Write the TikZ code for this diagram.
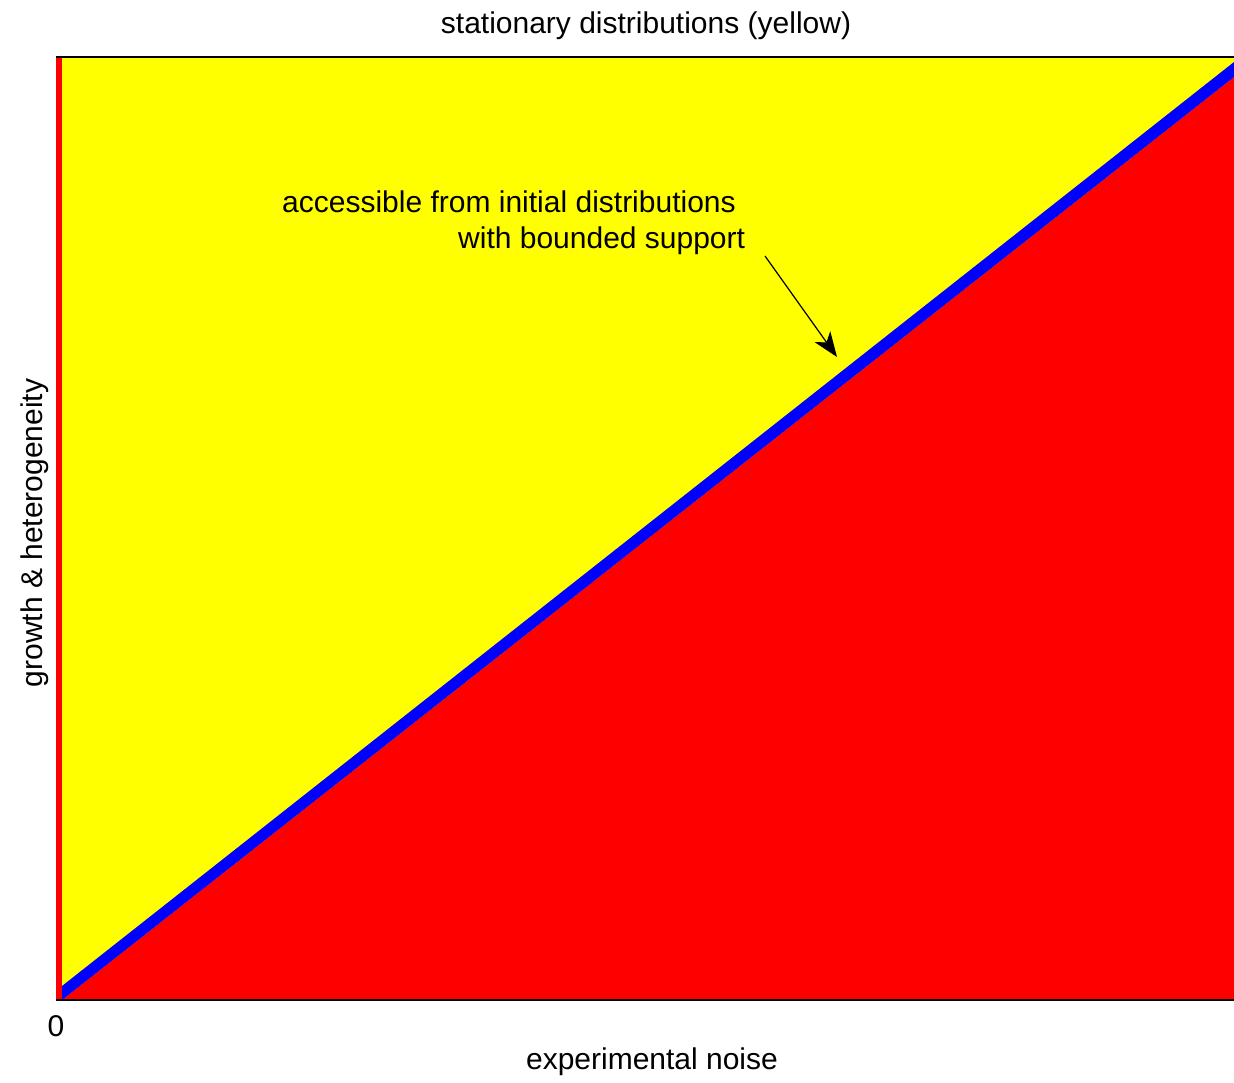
\documentclass[tikz,border=0pt]{standalone}
\usepackage{fontspec}
\setmainfont{Liberation Sans}
\usetikzlibrary{arrows.meta}
\definecolor{plotyellow}{RGB}{255,255,0}
\definecolor{plotred}{RGB}{255,0,0}
\definecolor{plotblue}{RGB}{0,0,255}
\tikzset{
  lbl/.style={inner sep=0pt, font=\fontsize{30}{36}\selectfont},
  pointer/.style={line width=1.2pt, -{Stealth[length=25pt,width=19pt,inset=7pt]}}
}
\begin{document}
\begin{tikzpicture}[x=1pt,y=-1pt]
\useasboundingbox (0,0) rectangle (1234,1082);
% regions
\fill[plotyellow] (56,57) rectangle (1234,1000);
\fill[plotred] (62,1000) -- (1234,77) -- (1234,1000) -- cycle;
\fill[plotblue] (62,986) -- (1234,62) -- (1234,77) -- (62,1000) -- cycle;
\fill[plotred] (56,57) rectangle (62,1001);
% frame
\draw[line width=1.2pt] (56,57) -- (1234,57);
\draw[line width=1.2pt] (56,1000) -- (1234,1000);
% labels
\node[lbl, anchor=base] (title) at (646,33) {stationary distributions (yellow)};
\node[lbl, anchor=base] (xlab) at (652,1069) {experimental noise};
\node[lbl, anchor=base, rotate=90] (ylab) at (42,533) {growth \& heterogeneity};
\node[lbl, anchor=base] (zero) at (56,1036) {0};
\node[lbl, anchor=base west] (ann1) at (282,212) {accessible from initial distributions};
\node[lbl, anchor=base west] (ann2) at (458,248) {with bounded support};
% arrow
\coordinate (arrS) at (765,256);
\coordinate (arrE) at (837,357);
\draw[pointer] (arrS) -- (arrE);
\end{tikzpicture}
\end{document}
